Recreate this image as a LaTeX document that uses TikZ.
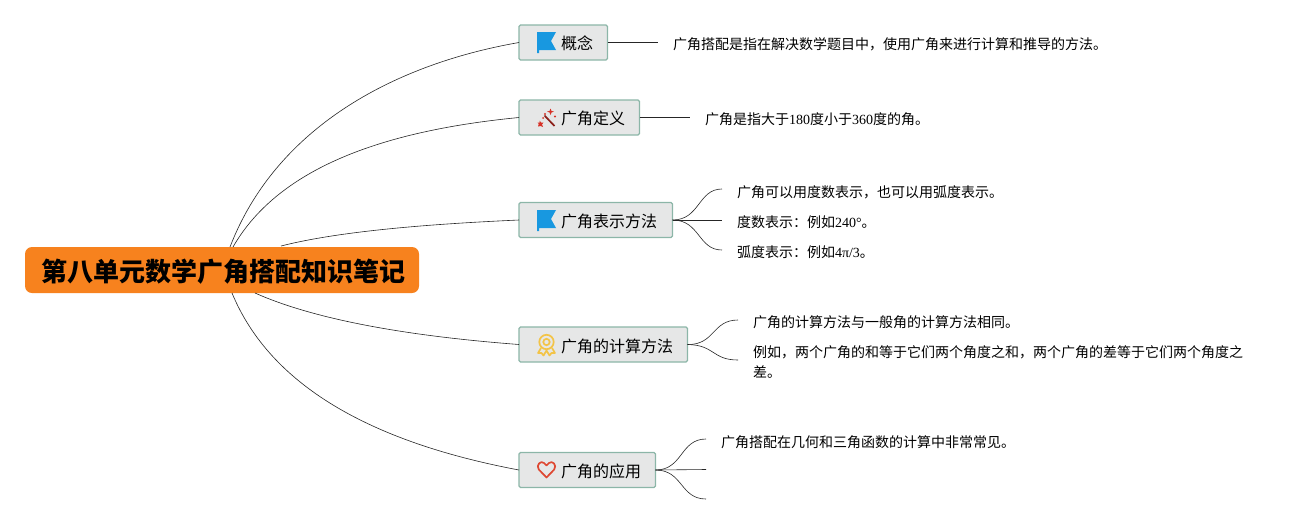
\documentclass[tikz,border=0pt]{standalone}
\usepackage{fontspec}
\setmainfont{Noto Sans CJK SC}
\newfontfamily\numfont{Liberation Serif}
\definecolor{RootOrange}{RGB}{247,130,30}
\definecolor{BoxFill}{RGB}{230,231,231}
\definecolor{BoxLine}{RGB}{140,182,168}
\definecolor{FlagBlue}{RGB}{24,152,224}
\definecolor{WandRed}{RGB}{214,50,40}
\definecolor{MedalYellow}{RGB}{243,196,72}
\definecolor{HeartRed}{RGB}{222,72,50}
\newcommand{\flagicon}[2]{\fill[FlagBlue, shift={(#1,#2)}] (0,0) -- (19,0) -- (14,9) -- (19,18) -- (2,18) -- (2,21) -- (0,21) -- cycle;}
\begin{document}
\begin{tikzpicture}[x=1pt, y=-1pt]
	\tikzstyle{every node}=[inner sep=0pt, outer sep=0pt];
	\tikzstyle{topic}=[draw=BoxLine, fill=BoxFill, line width=1.1pt, rounded corners=1.5pt, minimum height=35pt, anchor=west];
	\tikzstyle{leaf}=[anchor=west, font=\fontsize{14}{20}\selectfont, align=left];
	\tikzstyle{link}=[draw=black!85, line width=0.6pt];
	\useasboundingbox (0,0) rectangle (1313,525);
	% centre
	\node [fill=RootOrange, rounded corners=7pt, minimum width=394pt, minimum height=46pt] (root) at (222,270) {};
	\node [font=\fontsize{26}{30}\selectfont\bfseries] (t0) at (223,271.5) {第八单元数学广角搭配知识笔记};
	% topics
	\node [topic, minimum width=88.5pt] (n1) at (519,42.5) {};
	\node [topic, minimum width=120.5pt] (n2) at (519,117.5) {};
	\node [topic, minimum width=153.5pt] (n3) at (519,220) {};
	\node [topic, minimum width=168.5pt] (n4) at (519,344.5) {};
	\node [topic, minimum width=136.5pt] (n5) at (519,470) {};
	\node [anchor=west, font=\fontsize{16}{20}\selectfont] (t1) at (561,43.5) {概念};
	\node [anchor=west, font=\fontsize{16}{20}\selectfont] (t2) at (561,118.5) {广角定义};
	\node [anchor=west, font=\fontsize{16}{20}\selectfont] (t3) at (561,221.5) {广角表示方法};
	\node [anchor=west, font=\fontsize{16}{20}\selectfont] (t4) at (561,346) {广角的计算方法};
	\node [anchor=west, font=\fontsize{16}{20}\selectfont] (t5) at (561,471.5) {广角的应用};
	% leaves
	\node [leaf] (l11) at (673,44.5) {广角搭配是指在解决数学题目中，使用广角来进行计算和推导的方法。};
	\node [leaf] (l21) at (705,119.5) {广角是指大于{\numfont 180}度小于{\numfont 360}度的角。};
	\node [leaf] (l31) at (737,192) {广角可以用度数表示，也可以用弧度表示。};
	\node [leaf] (l32) at (737,222) {度数表示：例如{\numfont 240°}。};
	\node [leaf] (l33) at (737,252) {弧度表示：例如{\numfont 4π/3}。};
	\node [leaf] (l41) at (753,322) {广角的计算方法与一般角的计算方法相同。};
	\node [leaf] (l42) at (753,362) {例如，两个广角的和等于它们两个角度之和，两个广角的差等于它们两个角度之\\差。};
	\node [leaf] (l51) at (721,442) {广角搭配在几何和三角函数的计算中非常常见。};
	% free ends
	\coordinate (r1) at (230,247);
	\coordinate (r2) at (233,247);
	\coordinate (r3) at (281,246);
	\coordinate (r4) at (255,293);
	\coordinate (r5) at (232,293);
	\coordinate (e11) at (658,42.5);
	\coordinate (e21) at (690,117.5);
	\coordinate (e31) at (722,189);
	\coordinate (e32) at (722,220);
	\coordinate (e33) at (722,250);
	\coordinate (e41) at (738,320);
	\coordinate (e42) at (738,360);
	\coordinate (e51) at (706,439);
	\coordinate (e52) at (706,469.5);
	\coordinate (e53) at (706,499);
	% root to topics
	\draw[link] (r1) .. controls (275,130) and (390,65) .. (n1.west);
	\draw[link] (r2) .. controls (280,165) and (390,130) .. (n2.west);
	\draw[link] (r3) .. controls (340,231) and (430,224) .. (n3.west);
	\draw[link] (r4) .. controls (320,322) and (420,337) .. (n4.west);
	\draw[link] (r5) .. controls (270,385) and (370,442) .. (n5.west);
	% topics to leaves
	\draw[link] (n1.east) -- (e11);
	\draw[link] (n2.east) -- (e21);
	\draw[link] (n3.east) .. controls (700,220) and (698,189) .. (e31);
	\draw[link] (n3.east) -- (e32);
	\draw[link] (n3.east) .. controls (700,220) and (698,250) .. (e33);
	\draw[link] (n4.east) .. controls (715,345) and (712,320) .. (e41);
	\draw[link] (n4.east) .. controls (715,345) and (712,360) .. (e42);
	\draw[link] (n5.east) .. controls (683,470) and (680,439) .. (e51);
	\draw[link] (n5.east) -- (e52);
	\draw[link] (n5.east) .. controls (683,470) and (680,499) .. (e53);
	% icons
	\flagicon{537}{32}
	\flagicon{537}{210}
	\draw[black!35!WandRed, line width=1.7pt] (544.5,115.5) -- (554.5,126);
	\fill[WandRed] (539.5,120.5) -- (541,122.5) -- (543.5,122.5) -- (542,124.5) -- (543,127) -- (540.5,126) -- (538,126.5) -- (538.8,124) -- (537.5,122.5) -- (539.5,122.5) -- cycle;
	\fill[WandRed] (550.5,108.5) -- (551.5,111) -- (554,111.5) -- (551.5,112.5) -- (550.5,115) -- (549.5,112.5) -- (547,111.5) -- (549.5,111) -- cycle;
	\fill[WandRed] (545,114) circle (1.2pt) (555,116.5) circle (1.2pt) (543,118) circle (1pt);
	\draw[MedalYellow, line width=1.7pt] (546.5,342) circle (7.2pt);
	\draw[MedalYellow, line width=1.7pt] (546.5,342) circle (3.2pt);
	\draw[MedalYellow, line width=1.7pt, line join=round] (541,348) -- (538,353) -- (541.5,353) -- (543.5,355.5) -- (546.5,350.5) -- (549.5,355.5) -- (551.5,353) -- (555,353) -- (552,348);
	\draw[HeartRed, line width=1.7pt, line join=round] (546.5,477.5) -- (538.8,469.5) .. controls (535.5,465) and (541,460) .. (544,463) -- (546.5,465.5) -- (549,463) .. controls (552,460) and (557.5,465) .. (554.2,469.5) -- cycle;
\end{tikzpicture}
\end{document}
